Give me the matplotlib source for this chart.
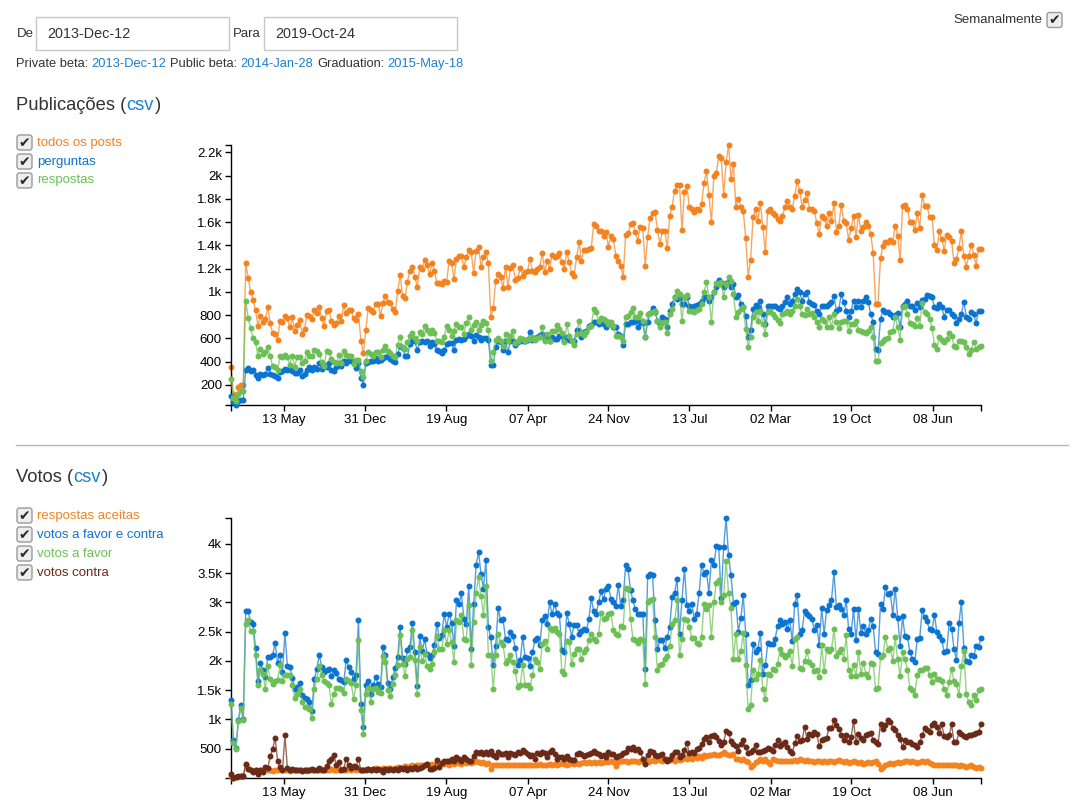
import numpy as np
import matplotlib
matplotlib.use("Agg")
import matplotlib.pyplot as plt
import matplotlib.dates as mdates
import matplotlib.transforms as mtransforms
from matplotlib.patches import Rectangle, FancyBboxPatch
from matplotlib.lines import Line2D
from matplotlib.ticker import FuncFormatter, FixedLocator

plt.rcParams['font.family'] = ['Liberation Sans', 'DejaVu Sans']

# ---- data (weekly) ----
start_date = "2013-12-12"
end_date = "2019-10-24"
from_label = "2013-Dec-12"
to_label = "2019-Oct-24"
private_beta = "2013-Dec-12"
public_beta = "2014-Jan-28"
graduation = "2015-May-18"

xtick_dates = ["2014-05-13", "2014-12-31", "2015-08-19", "2016-04-07", "2016-11-24",
               "2017-07-13", "2018-03-02", "2018-10-19", "2019-06-08"]
posts_yticks = [200, 400, 600, 800, 1000, 1200, 1400, 1600, 1800, 2000, 2200]
votes_yticks = [500, 1000, 1500, 2000, 2500, 3000, 3500, 4000]

all_posts = [
    355, 120, 90, 180, 200, 200, 1245, 1120, 1000, 930,
    840, 710, 795, 740, 765, 867, 730, 645, 640, 590,
    753, 740, 790, 773, 695, 780, 660, 718, 760, 640,
    680, 805, 795, 767, 840, 815, 867, 773, 704, 833,
    840, 753, 715, 730, 795, 753, 887, 815, 840, 840,
    773, 760, 810, 580, 472, 675, 861, 840, 825, 897,
    897, 795, 905, 968, 910, 905, 853, 825, 1003, 1146,
    968, 948, 1088, 1183, 1217, 1131, 1040, 1211, 1197, 1274,
    1234, 1154, 1246, 1183, 1074, 1074, 1068, 1097, 1083, 1269,
    1246, 1111, 1283, 1312, 1312, 1211, 1298, 1360, 1340, 1163,
    1355, 1389, 1217, 1298, 1340, 1246,
    781, 861, 1097, 1154, 1125, 1031, 1217, 1040, 1203, 1234,
    1102, 1117, 1203, 1140, 1168, 1183, 1283, 1183, 1168, 1197,
    1217, 1335, 1168, 1269, 1197, 1317, 1297, 1312, 1335, 1254,
    1197, 1340, 1254, 1160, 1140, 1297, 1426, 1269, 1360, 1360,
    1369, 1378, 1584, 1570, 1526, 1520, 1483, 1518, 1389, 1483,
    1455, 1312, 1263, 1226, 1125, 1489, 1503, 1584, 1590, 1512,
    1441, 1561, 1547, 1226, 1475, 1636, 1676, 1690, 1532, 1412,
    1520, 1526, 1375, 1656, 1733, 1871, 1922, 1922, 1532, 1857,
    1914, 1727, 1712, 1684, 1712, 1704, 1756, 1934, 2037, 1836,
    1598, 1999, 2019, 2171, 2151, 1833, 2114, 2263, 1971, 2100,
    1727, 1798, 1733, 1699, 1461, 1131, 1277, 1641, 1712, 1612,
    1761, 1555, 1340, 1699, 1712, 1676, 1664, 1627, 1607, 1656,
    1727, 1779, 1727, 1712, 1827, 1951, 1871, 1733, 1790, 1851,
    1712, 1712, 1699, 1590, 1498, 1656, 1636, 1570, 1676, 1612,
    1764, 1518, 1570, 1747, 1612, 1590, 1449, 1550, 1656, 1475,
    1664, 1520, 1561, 1604, 1570, 1498, 1335, 896, 896, 1292,
    1398, 1432, 1432, 1449, 1432, 1570, 1483, 1274, 1742, 1750,
    1712, 1598, 1598, 1532, 1676, 1550, 1836, 1742, 1742, 1641,
    1641, 1403, 1360, 1520, 1455, 1355, 1489, 1470, 1435, 1246,
    1283, 1378, 1526, 1306, 1217, 1312, 1403, 1320, 1226, 1369,
    1369,
]

questions = [
    108, 51, 31, 65, 71, 71, 329, 343, 323, 329,
    286, 257, 295, 286, 295, 346, 295, 289, 280, 257,
    309, 323, 338, 329, 343, 323, 300, 303, 329, 272,
    295, 329, 357, 329, 352, 338, 386, 338, 375, 357,
    386, 329, 323, 357, 386, 366, 409, 386, 415, 409,
    395, 343, 386, 260, 203, 386, 395, 409, 403, 432,
    409, 415, 432, 438, 444, 421, 409, 395, 467, 530,
    516, 447, 444, 553, 581, 573, 501, 567, 581, 567,
    573, 538, 567, 553, 496, 487, 472, 496, 553, 558,
    558, 496, 587, 596, 587, 596, 616, 639, 616, 581,
    633, 610, 587, 604, 604, 587,
    374, 374, 523, 581, 567, 501, 581, 481, 581, 581,
    547, 567, 587, 581, 575, 587, 653, 587, 596, 610,
    630, 639, 587, 610, 581, 610, 596, 596, 624, 616,
    581, 610, 587, 581, 581, 673, 667, 610, 653, 667,
    710, 716, 739, 739, 724, 744, 724, 696, 739, 724,
    696, 696, 639, 624, 544, 724, 724, 739, 739, 747,
    696, 739, 730, 610, 739, 816, 862, 825, 753, 724,
    782, 767, 696, 839, 896, 959, 939, 947, 896, 896,
    953, 882, 873, 882, 887, 896, 925, 953, 959, 925,
    959, 997, 1040, 1103, 1068, 1040, 1074, 1083, 1045, 1068,
    953, 976, 896, 868, 795, 610, 673, 853, 887, 868,
    925, 810, 724, 882, 876, 876, 876, 859, 853, 882,
    910, 953, 896, 925, 982, 1025, 997, 925, 982, 997,
    910, 896, 887, 839, 810, 882, 882, 882, 896, 910,
    968, 839, 853, 982, 910, 839, 787, 839, 925, 868,
    925, 873, 925, 959, 910, 810, 739, 510, 501, 767,
    845, 825, 825, 810, 782, 804, 816, 696, 882, 896,
    919, 882, 882, 845, 902, 868, 930, 939, 976, 968,
    953, 868, 862, 896, 868, 787, 845, 845, 810, 795,
    730, 767, 810, 916, 787, 767, 825, 810, 730, 839,
    839,
]

answers = [
    252, 88, 65, 123, 146, 146, 925, 776, 687, 604,
    567, 452, 510, 467, 481, 524, 447, 361, 352, 329,
    444, 438, 458, 438, 372, 452, 357, 438, 438, 386,
    409, 481, 452, 444, 504, 490, 467, 395, 366, 490,
    481, 424, 395, 386, 458, 386, 487, 461, 444, 452,
    380, 415, 415, 323, 266, 409, 481, 467, 444, 481,
    481, 438, 496, 530, 487, 472, 452, 438, 547, 610,
    524, 510, 567, 616, 644, 604, 581, 653, 639, 704,
    676, 644, 673, 644, 581, 575, 567, 610, 710, 673,
    624, 667, 724, 701, 696, 639, 730, 782, 673, 716,
    739, 673, 716, 753, 730, 673,
    409, 481, 587, 604, 581, 530, 639, 581, 624, 662,
    558, 581, 601, 596, 581, 596, 596, 610, 587, 604,
    610, 701, 575, 639, 581, 667, 667, 716, 682, 644,
    567, 724, 616, 581, 547, 639, 753, 644, 630, 653,
    696, 710, 853, 825, 753, 776, 767, 753, 724, 739,
    710, 624, 624, 610, 581, 782, 796, 825, 862, 787,
    782, 816, 753, 610, 810, 816, 825, 839, 753, 696,
    730, 739, 644, 810, 853, 953, 1005, 982, 747, 959,
    973, 839, 839, 830, 845, 853, 896, 996, 1083, 959,
    739, 996, 1074, 1068, 1083, 953, 1068, 1131, 1097, 982,
    787, 825, 853, 873, 681, 524, 610, 787, 825, 753,
    839, 724, 639, 825, 839, 810, 782, 759, 730, 810,
    816, 833, 810, 839, 882, 939, 882, 810, 804, 853,
    810, 816, 782, 739, 696, 767, 753, 696, 782, 696,
    810, 739, 687, 739, 753, 753, 667, 724, 724, 753,
    673, 667, 653, 644, 667, 696, 610, 403, 403, 558,
    581, 596, 604, 653, 667, 782, 696, 587, 868, 882,
    810, 730, 724, 710, 773, 710, 902, 825, 810, 767,
    690, 547, 510, 610, 587, 567, 596, 644, 624, 538,
    524, 581, 581, 567, 524, 467, 501, 567, 510, 524,
    530,
]

accepted = [
    44, 10, 20, 25, 30, 30, 215, 175, 141, 118,
    130, 101, 130, 141, 158, 141, 130, 118, 141, 130,
    158, 141, 130, 141, 118, 130, 141, 130, 141, 130,
    141, 118, 141, 130, 141, 130, 141, 158, 141, 130,
    141, 158, 141, 130, 141, 158, 141, 141, 158, 141,
    158, 141, 158, 141, 130, 158, 158, 141, 158, 175,
    158, 158, 175, 158, 175, 175, 158, 175, 187, 175,
    187, 198, 187, 198, 215, 198, 215, 215, 230, 215,
    244, 230, 244, 215, 244, 230, 255, 244, 255, 230,
    255, 244, 272, 255, 244, 272, 255, 272, 255, 272,
    289, 272, 255,
    272, 244, 255, 158, 215, 230, 215, 215, 230, 215,
    215, 230, 215, 215, 230, 215, 215, 230, 215, 215,
    230, 215, 230, 244, 230, 215, 230, 244, 230, 244,
    230, 244, 255, 244, 230, 244, 255, 244, 255, 244,
    255, 272, 255, 272, 255, 272, 255, 272, 255, 272,
    289, 272, 289, 272, 198, 272, 289, 300, 289, 272,
    289, 300, 289, 272, 300, 289, 300, 272, 300, 312,
    300, 329, 312, 300, 312, 329, 312, 329, 300, 329,
    312, 329, 357, 329, 357, 329, 357, 343, 369, 343,
    386, 369, 400, 386, 414, 400, 386, 414, 443, 414,
    400, 386,
    414, 329, 329, 315, 329, 300, 272, 187, 215, 272,
    300, 329, 300, 329, 272, 244, 329, 315, 300, 300,
    289, 300, 300, 289, 300, 315, 300, 329, 315, 300,
    315, 289, 300, 272, 289, 300, 272, 289, 272, 289,
    300, 272, 289, 315, 289, 272, 289, 255, 272, 289,
    272, 255, 272, 244, 255, 272, 255, 272, 289, 244,
    158, 187, 230, 244, 255, 244, 255, 272, 255, 272,
    289, 300, 272, 289, 272, 255, 272, 300, 272, 289,
    255, 244, 230, 215, 230, 215, 230, 230, 215, 230,
    215, 230, 198, 215, 198, 187, 198, 215, 187, 175,
    187, 175,
]

votes_total = [
    1325, 642, 511, 995, 1240, 1012, 2860, 2850, 2662, 2622,
    2223, 1654, 1961, 1848, 1723, 2064, 2064, 2093, 2309, 1967,
    2104, 1808, 2479, 1911, 1894, 1712, 1524, 1553, 1627, 1410,
    1365, 1354, 1297, 1137, 1695, 1854, 2104, 1894, 1808, 1837,
    1866, 1740, 1837, 1791, 1695, 1667, 1638, 2020, 1894, 1808,
    1695, 1752, 2691, 1268, 870, 1581, 1649, 1439, 1581, 1723,
    1610, 1553, 2235, 2093, 1627, 1524, 1723, 1877, 2064, 2576,
    2047, 1951, 2178, 2235, 2645, 2149, 1570, 2417, 2161, 2366,
    2121, 2047, 2104, 2263, 2633, 2389, 2446, 2805, 2576, 2805,
    2651, 2252, 3043, 2964, 3157, 2719, 2633, 3271, 2207, 2975,
    3630, 3858, 3488, 3232, 3727, 2576,
    2400, 1923, 2252, 2900, 2691, 2708, 2378, 2361, 2492, 2418, 2219,
    1923, 2008, 2406, 2064, 2047, 1905, 2149, 2349, 2389, 2264,
    2702, 2759, 2634, 3004, 2793, 2964, 2822, 2788, 2178, 2149,
    2816, 2634, 2406, 2617, 2617, 2463, 2503, 2549, 2520, 2708,
    3072, 2844, 2805, 3004, 3186, 3050, 3232, 3271, 3061, 3004,
    2930, 3300, 2930, 3032, 3641, 3573, 3203, 3032, 2879, 2805,
    2805, 2805, 1854, 3443, 3488, 3460, 2691, 2196, 2349, 2349,
    2219, 2406, 2577, 3089, 3163, 3402, 2463, 3043, 3573, 2947,
    2844, 2975, 2719, 2805, 3163, 3641, 3488, 3516, 3163, 3716,
    3630, 3955, 3944, 3072, 3944, 4439, 3800, 3460, 2975,
    3004, 2492, 2731, 3118, 2463, 1592, 1666, 2292, 2150, 2207,
    2475, 1780, 1923, 2304, 2292, 2292, 2378, 2594, 2691, 2634,
    2662, 2549, 2702, 2332, 2975, 3129, 2463, 2520, 2844, 2805,
    2765, 2719, 2520, 2606, 2264, 2901, 2463, 2873, 2958, 3032,
    3516, 2918, 2958, 2890, 2788, 3032, 2537, 2463, 2890, 2349,
    2890, 2475, 2589, 2463, 2520, 2719, 2594, 2150, 2121, 2975,
    2890, 3260, 3146, 3157, 2788, 3232, 2731, 2252, 2759, 2418,
    2406, 2150, 2036, 1980, 2378, 2389, 2861, 2748, 2674, 2537,
    2520, 2788, 2492, 2418, 2361, 2150, 2162, 2651, 2549, 2207,
    2020, 2645, 3004, 2219, 1991, 1980, 2104, 2076, 2247, 2235,
    2395,
]

votes_up = [
    1256, 602, 500, 966, 1194, 983, 2634, 2691, 2503, 2509,
    2104, 1581, 1848, 1780, 1524, 1905, 1684, 1598, 1649, 1666,
    1923, 1649, 1763, 1752, 1763, 1592, 1365, 1439, 1524, 1297,
    1211, 1211, 1171, 1023, 1524, 1684, 1905, 1763, 1649, 1627,
    1581, 1256, 1439, 1536, 1536, 1524, 1456, 1695, 1649, 1627,
    1354, 1581, 2361, 1154, 756, 1439, 1536, 1297, 1524, 1536,
    1467, 1456, 2081, 1980, 1496, 1393, 1610, 1752, 1923, 2446,
    1951, 1740, 2036, 2064, 2520, 2008, 1439, 2235, 1991, 2121,
    1911, 1854, 1951, 2150, 2420, 2210, 2200, 2520, 2292, 2520,
    2321, 1980, 2691, 2662, 2788, 2378, 2361, 2958, 1934, 2662,
    3163, 3431, 3101, 2788, 3271, 2104,
    2100, 1524, 2093, 2463, 2321, 2275, 1967, 2008, 2104, 1980, 1820,
    1553, 1592, 1934, 1592, 1581, 1536, 1763, 2025, 1980, 1854,
    2292, 2332, 2207, 2560, 2520, 2560, 2492, 2463, 1826, 1780,
    2332, 2321, 1951, 2121, 2207, 2196, 2025, 2150, 2196, 2349,
    2463, 2378, 2332, 2463, 2822, 2719, 2731, 2805, 2822, 2520,
    2463, 2435, 2600, 2577, 3243, 3232, 2719, 2378, 2349, 2309,
    2366, 2349, 1610, 3004, 3032, 3050, 2400, 1837, 1923, 1951,
    2036, 2081, 2252, 2634, 2691, 3032, 2093, 2378, 2719, 2691,
    2577, 2389, 2389, 2309, 2292, 2406, 2975, 2890, 2947, 2406,
    3004, 3328, 3374, 3004, 3118, 3699, 3163, 2901, 2036,
    2463, 2025, 2161, 2480, 1923, 1171, 1240, 1837, 1684, 1780,
    2019, 1524, 1342, 1780, 1763, 1854, 1837, 1951, 2196, 2121,
    2064, 2104, 2167, 1911, 2378, 2406, 1877, 1866, 1991, 2161,
    1980, 1934, 1820, 1837, 1723, 2264, 1826, 2196, 2167, 2196,
    2537, 2082, 2150, 2196, 2036, 2435, 1837, 1735, 1923, 1735,
    2150, 1780, 1968, 1780, 1723, 1968, 1951, 1524, 1536, 2065,
    2093, 2406, 2190, 2218, 1991, 2406, 2025, 1740, 2150, 2025,
    1849, 1536, 1496, 1422, 1763, 1849, 1837, 1883, 1883, 1763,
    1638, 1780, 1695, 1684, 1650, 1524, 1422, 1638, 1854, 1650,
    1610, 1410, 1911, 2167, 1439, 1297, 1251, 1410, 1325, 1496,
    1524,
]

votes_down = [
    73, 10, 27, 44, 44, 44, 232, 158, 141, 101,
    130, 73, 130, 101, 187, 175, 369, 500, 682, 300,
    187, 130, 727, 175, 141, 158, 130, 130, 141, 118,
    130, 141, 130, 158, 141, 130, 175, 130, 141, 198,
    289, 329, 397, 215, 272, 141, 158, 329, 215, 175,
    198, 187, 329, 130, 130, 141, 158, 141, 158, 130,
    158, 141, 101, 158, 141, 158, 130, 158, 141, 175,
    158, 175, 141, 175, 158, 187, 158, 175, 187, 215,
    244, 158, 158, 175, 312, 187, 255, 289, 289, 300,
    329, 300, 357, 329, 300, 357, 329, 300, 289, 369,
    443, 426, 443,
    414, 443, 414, 460, 386, 357, 443, 414, 403, 426,
    357, 426, 403, 386, 443, 426, 483, 443, 403, 369,
    386, 329, 426, 414, 443, 426, 357, 443, 472, 414,
    329, 357, 357, 329, 369, 329, 312, 312, 414, 426,
    403, 369, 386, 414, 426, 460, 426, 403, 369, 386,
    357, 443, 414, 403, 357, 369, 386, 426, 443, 517,
    500, 528, 483, 500, 443, 329, 244, 386, 460, 443,
    386, 369, 386, 414, 329, 300, 329, 386, 443, 443,
    357, 386, 472, 597, 426, 443, 426, 500, 517, 585,
    671, 699, 614, 716, 727, 699, 631, 557, 614, 801,
    767, 631,
    585, 540, 460, 585, 642, 528, 426, 443, 483, 557,
    443, 443, 460, 483, 517, 500, 460, 557, 642, 540,
    585, 614, 528, 455, 426, 597, 710, 631, 642, 870,
    671, 756, 727, 784, 756, 540, 642, 671, 688, 858,
    858, 983, 898, 841, 727, 654, 727, 614, 699, 972,
    614, 756, 688, 642, 727, 756, 767, 654, 614, 585,
    927, 841, 898, 983, 955, 858, 824, 727, 671, 528,
    654, 614, 614, 585, 557, 528, 614, 727, 858, 824,
    784, 898, 938, 870, 767, 915, 710, 699, 727, 915,
    614, 614, 784, 756, 710, 699, 727, 727, 756, 767,
    784, 915,
]

# ---- colours ----
ORANGE = "#f4821f"
BLUE = "#0b74d1"
GREEN = "#6cbf55"
BROWN = "#6b2a17"
LINK = "#1a80d0"
TEXT = "#333333"

W, H = 1086, 805
fig = plt.figure(figsize=(W / 100, H / 100), dpi=100)
fig.patch.set_facecolor("white")
renderer = fig.canvas.get_renderer()

# pixel transform: (x from left, y from top)
pix = mtransforms.Affine2D().scale(1.0 / W, -1.0 / H).translate(0, 1) + fig.transFigure


def ftext(x, y, s, size=9.5, color=TEXT, ha="left", **kw):
    return fig.text(x / W, 1 - y / H, s, fontsize=size, color=color, ha=ha, va="center", **kw)


def run(x, y, pieces, size, gap):
    # place text pieces one after another on a line
    for s, c in pieces:
        t = ftext(x, y, s, size, color=c)
        bb = t.get_window_extent(renderer)
        x = bb.x1 + gap


def checkbox(x, y):
    box = FancyBboxPatch((x, y - 7.5), 15, 15, boxstyle="round,pad=0,rounding_size=2.5",
                         transform=pix, facecolor="#eeeeee", edgecolor="#9a9a9a", lw=1.0)
    fig.patches.append(box)
    fig.text((x + 7.7) / W, 1 - (y + 0.5) / H, "\u2714", fontsize=10, color="#2a2a2a",
             ha="center", va="center", family=["DejaVu Sans"])


def inputbox(x0, x1, y0, y1):
    r = Rectangle((x0, y0), x1 - x0, y1 - y0, transform=pix, facecolor="white",
                  edgecolor="#c8c8c8", lw=1.0)
    fig.patches.append(r)


# ---- header ----
ftext(17, 34, "De", 9.5)
inputbox(36, 229, 17, 50)
ftext(47, 34, from_label, 10.4)
ftext(233, 34, "Para", 9.5)
inputbox(264, 457, 17, 50)
ftext(275, 34, to_label, 10.4)

ftext(1042, 20, "Semanalmente", 9.5, ha="right")
checkbox(1047, 20)

run(16, 64, [("Private beta:", TEXT), (private_beta, LINK), ("Public beta:", TEXT),
             (public_beta, LINK), ("Graduation:", TEXT), (graduation, LINK)], 9.3, 3.5)

# ---- section titles & legends ----
run(16, 105, [("Publica\u00e7\u00f5es (", TEXT), ("csv", LINK), (")", TEXT)], 13.2, 0.5)

posts_legend = [("todos os posts", ORANGE), ("perguntas", BLUE), ("respostas", GREEN)]
for i, (lab, c) in enumerate(posts_legend):
    y = 142.5 + 19 * i
    checkbox(17, y)
    ftext(37, y, lab, 9.5, color=c)

fig.lines.append(Line2D([16, 1068], [444.5, 444.5], transform=pix, color="#b8b8b8", lw=1.0))

run(16, 477, [("Votos (", TEXT), ("csv", LINK), (")", TEXT)], 13.2, 0.5)

votes_legend = [("respostas aceitas", ORANGE), ("votos a favor e contra", BLUE),
                ("votos a favor", GREEN), ("votos contra", BROWN)]
for i, (lab, c) in enumerate(votes_legend):
    y = 515.5 + 19 * i
    checkbox(17, y)
    ftext(37, y, lab, 9.5, color=c)

# ---- charts ----
weeks = np.arange(np.datetime64(start_date), np.datetime64(end_date) + 1, 7)
xs = mdates.date2num(weeks)
xt = mdates.date2num(np.array(xtick_dates, dtype="datetime64[D]"))


def kfmt(v, pos):
    if v >= 1000:
        return f"{v / 1000:g}k"
    return f"{v:g}"


def style_axis(ax, yticks, lo, hi):
    for s in ("top", "right"):
        ax.spines[s].set_visible(False)
    for s in ("left", "bottom"):
        ax.spines[s].set_linewidth(1.0)
        ax.spines[s].set_color("black")
    ax.set_xlim(xs[0], xs[-1])
    ax.set_ylim(lo, hi)
    ax.set_yticks(yticks)
    ax.yaxis.set_major_formatter(FuncFormatter(kfmt))
    ax.set_xticks(xt)
    ax.xaxis.set_major_formatter(mdates.DateFormatter("%d %b"))
    ax.yaxis.set_minor_locator(FixedLocator([lo, hi]))
    ax.xaxis.set_minor_locator(FixedLocator([xs[0], xs[-1]]))
    ax.tick_params(which="both", direction="out", length=4.3, width=1.0, color="black",
                   labelsize=9.5, pad=2.2)
    ax.patch.set_alpha(0)


def draw(ax, vals, c, z):
    v = vals[:len(xs)]
    x = xs[:len(v)]
    ax.plot(x, v, color=c, lw=1.0, alpha=0.7, zorder=z, clip_on=False)
    ax.plot(x, v, "o", ms=4.3, color=c, mec="none", zorder=z + 0.5, clip_on=False)


ax1 = fig.add_axes([231 / W, 1 - 404.5 / H, 750 / W, (404.5 - 145) / H])
top_series = [(all_posts, ORANGE), (questions, BLUE), (answers, GREEN)]
for i, (vals, c) in enumerate(top_series):
    draw(ax1, vals, c, 2 + i)
lo1 = min(min(s) for s, _ in top_series)
hi1 = max(max(s) for s, _ in top_series)
style_axis(ax1, posts_yticks, lo1, hi1)

ax2 = fig.add_axes([231 / W, 1 - 777.5 / H, 750 / W, (777.5 - 518) / H])
bottom_series = [(accepted, ORANGE), (votes_total, BLUE), (votes_up, GREEN), (votes_down, BROWN)]
for i, (vals, c) in enumerate(bottom_series):
    draw(ax2, vals, c, 2 + i)
lo2 = min(min(s) for s, _ in bottom_series)
hi2 = max(max(s) for s, _ in bottom_series)
style_axis(ax2, votes_yticks, lo2, hi2)

fig.savefig("out.png", dpi=100)
